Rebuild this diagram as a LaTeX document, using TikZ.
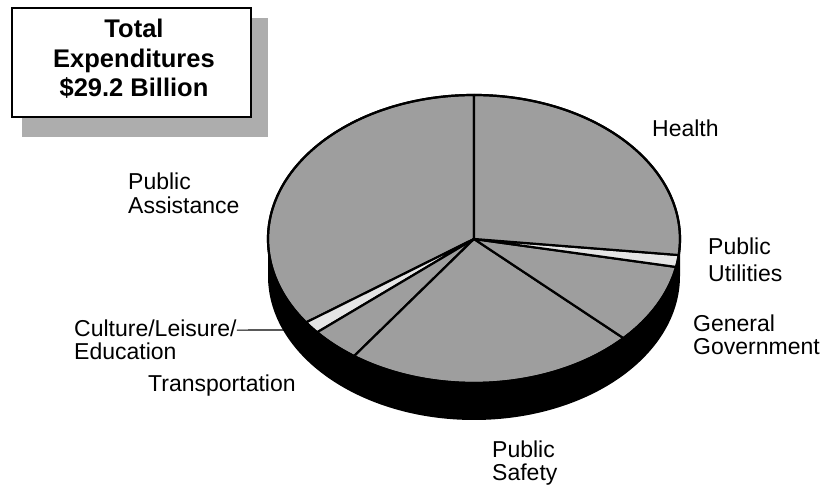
\documentclass[tikz,border=0pt]{standalone}
\usepackage{fontspec}
\setmainfont{Liberation Sans}
\begin{document}
\begin{tikzpicture}[x=1pt,y=1pt,
  lbl/.style={anchor=base west,inner sep=0pt,align=left,font=\fontsize{23}{24}\selectfont},
  slicefill/.style={fill=black!38,draw=black,line width=2.2pt,line join=round},
  thinfill/.style={fill=black!10,draw=black,line width=2.2pt,line join=round}]
\useasboundingbox (0,0) rectangle (828,487);
\def\cx{474}\def\cy{248}
\newcommand\pieslice[3]{%
  \path[#3] (\cx,\cy) -- ([shift={(\cx,\cy)}]#1:206pt and 144pt)
    arc[start angle=#1,end angle=#2,x radius=206pt,y radius=144pt] -- cycle;}
% title box with shadow
\fill[black!32] (22,469) rectangle (268,350);
\node[draw=black,line width=1.4pt,fill=white,minimum width=239pt,minimum height=109pt,inner sep=0pt] (box) at (131.5,424.5) {};
\node[anchor=base,inner sep=0pt,align=center,font=\fontsize{25.5}{29.5}\selectfont\bfseries] (title) at (134,390) {Total\\Expenditures\\\$29.2 Billion};
% pie side
\fill[black] (268,248) -- (268,211) arc[start angle=180,end angle=360,x radius=206pt,y radius=144pt] -- (680,248) -- cycle;
% slices
\pieslice{90}{215.4}{slicefill}
\pieslice{215.4}{220.4}{thinfill}
\pieslice{220.4}{234.4}{slicefill}
\pieslice{234.4}{316.5}{slicefill}
\pieslice{316.5}{348.8}{slicefill}
\pieslice{348.8}{353.6}{thinfill}
\pieslice{-6.4}{90}{slicefill}
\draw[line width=2.2pt] (\cx,\cy) ellipse[x radius=206pt,y radius=144pt];
% labels
\node[lbl] (health) at (652,350) {Health};
\node[lbl,font=\fontsize{23}{27}\selectfont] (util) at (708,205) {Public\\Utilities};
\node[lbl,font=\fontsize{23}{23.5}\selectfont] (gov) at (693,132) {General\\Government};
\node[lbl] (assist) at (128,273) {Public\\Assistance};
\node[lbl,font=\fontsize{23}{23}\selectfont] (cult) at (74,127) {Culture/Leisure/\\Education};
\node[lbl] (trans) at (148,95) {Transportation};
\node[lbl,font=\fontsize{23}{23}\selectfont] (safety) at (492,6) {Public\\Safety};
\coordinate (cultend) at (288,157);
\draw[line width=1.2pt] ([yshift=-10pt]cult.north east) -- (cultend);
\end{tikzpicture}
\end{document}
